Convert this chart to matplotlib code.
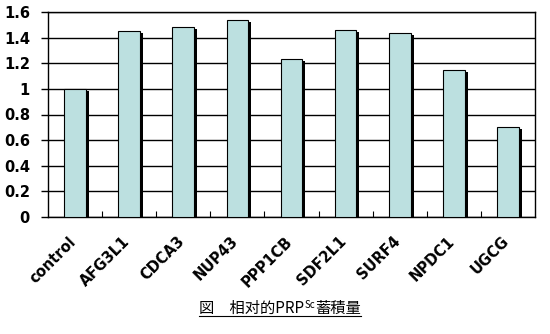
import numpy as np
import matplotlib
matplotlib.use("Agg")
import matplotlib.pyplot as plt
import matplotlib.transforms as mtransforms
from matplotlib.lines import Line2D

# data
genes = ["control", "AFG3L1", "CDCA3", "NUP43", "PPP1CB",
         "SDF2L1", "SURF4", "NPDC1", "UGCG"]
values = [1.0, 1.45, 1.48, 1.54, 1.23, 1.46, 1.44, 1.15, 0.70]
yticks = [0, 0.2, 0.4, 0.6, 0.8, 1, 1.2, 1.4, 1.6]
ytick_labels = ["0", "0.2", "0.4", "0.6", "0.8", "1", "1.2", "1.4", "1.6"]

cjk = ["Noto Sans CJK JP", "DejaVu Sans"]

fig = plt.figure(figsize=(5.5, 3.34), dpi=100)
ax = fig.add_axes([48/550, 1 - 217/334, 487/550, 205/334])

x = np.arange(len(genes))
width = 0.4
# shadow bars
ax.bar(x + 0.055, np.array(values) - 0.016, width, color="black", zorder=2)
ax.bar(x, values, width, color="#bce0e0", edgecolor="black",
       linewidth=0.8, zorder=3)

ax.set_xlim(-0.5, len(genes) - 0.5)
ax.set_ylim(0, 1.6)
ax.set_yticks(yticks)
ax.set_yticklabels(ytick_labels, fontsize=10.5, fontweight="bold")
ax.yaxis.grid(True, color="black", linewidth=1.0, zorder=1)
ax.set_axisbelow(True)
ax.tick_params(axis="y", length=5, width=1, pad=8)

ax.set_xticks(x)
ax.set_xticklabels(genes, rotation=45, ha="right", rotation_mode="anchor",
                   fontsize=10.5, fontweight="bold")
ax.tick_params(axis="x", length=0, pad=12)
shift = mtransforms.ScaledTranslation(-0.07, 0, fig.dpi_scale_trans)
for lab in ax.get_xticklabels():
    lab.set_transform(lab.get_transform() + shift)
ax.set_xticks(np.arange(0.5, len(genes) - 0.5, 1), minor=True)
ax.tick_params(axis="x", which="minor", direction="in", length=4, width=0.8)

for s in ax.spines.values():
    s.set_linewidth(1.0)
    s.set_color("black")

# caption with superscript and underline
fig.canvas.draw()
r = fig.canvas.get_renderer()
cy = 1 - 313/334
t1 = fig.text(0, cy, "図　相对的PRP", family=cjk, fontsize=11, va="baseline")
t2 = fig.text(0, cy, "Sc", family=cjk, fontsize=7, va="baseline")
t3 = fig.text(0, cy, "蓄積量", family=cjk, fontsize=11, va="baseline")
w1 = t1.get_window_extent(r).width / fig.bbox.width
w2 = t2.get_window_extent(r).width / fig.bbox.width
w3 = t3.get_window_extent(r).width / fig.bbox.width
x0 = 280/550 - (w1 + w2 + w3) / 2
t1.set_x(x0)
t2.set_x(x0 + w1)
t2.set_y(cy + 5/334)
t3.set_x(x0 + w1 + w2)
uy = cy - 3/334
fig.add_artist(Line2D([x0, x0 + w1 + w2 + w3], [uy, uy],
                      color="black", linewidth=0.8))

fig.savefig("out.png", dpi=100)
